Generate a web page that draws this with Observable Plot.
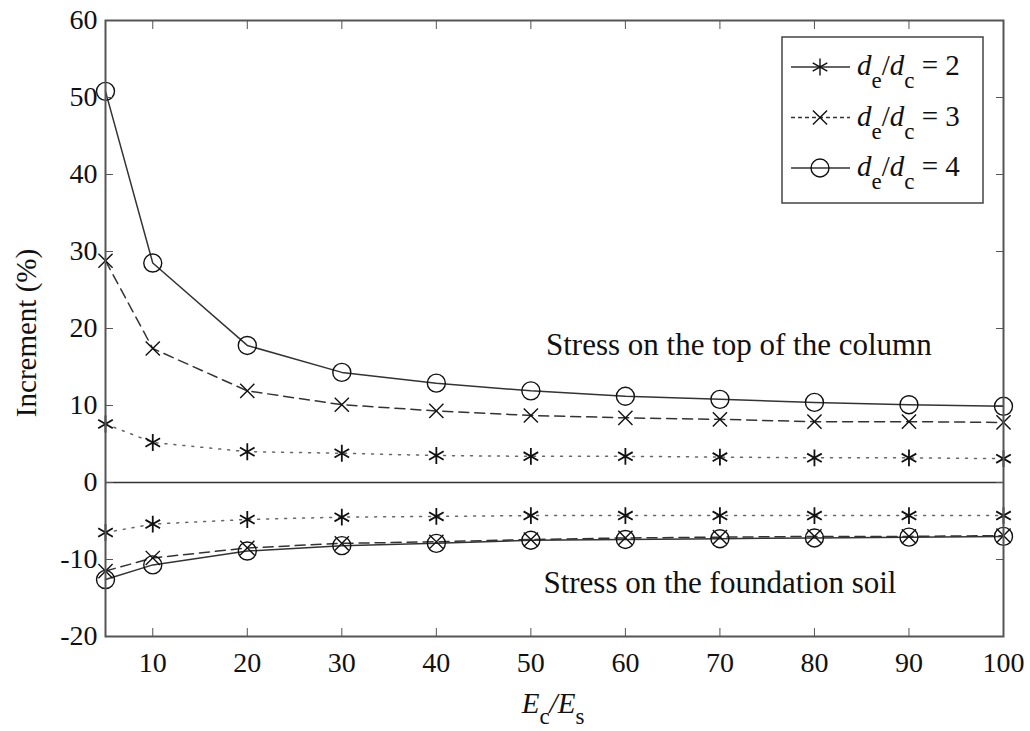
<!DOCTYPE html>
<html><head><meta charset="utf-8">
<script src="https://cdn.jsdelivr.net/npm/d3@7"></script>
<script src="https://cdn.jsdelivr.net/npm/@observablehq/plot@0.6"></script>
<style>body{margin:0;background:#fff} svg{display:block}</style>
</head><body><div id="chart"></div>
<script>
// E_c / E_s ratios
const ratio = [5, 10, 20, 30, 40, 50, 60, 70, 80, 90, 100];
// Stress on the top of the column (%)
const topD2 = [7.6, 5.2, 4.0, 3.8, 3.5, 3.4, 3.4, 3.3, 3.2, 3.2, 3.1];
const topD3 = [28.8, 17.4, 11.9, 10.1, 9.3, 8.7, 8.4, 8.2, 7.9, 7.9, 7.8];
const topD4 = [50.8, 28.5, 17.8, 14.3, 12.9, 11.9, 11.2, 10.8, 10.4, 10.1, 9.9];
// Stress on the foundation soil (%)
const soilD2 = [-6.5, -5.4, -4.8, -4.5, -4.4, -4.3, -4.3, -4.3, -4.3, -4.3, -4.3];
const soilD3 = [-11.5, -9.8, -8.5, -7.9, -7.7, -7.4, -7.2, -7.1, -7.0, -7.0, -6.9];
const soilD4 = [-12.6, -10.7, -8.9, -8.2, -7.9, -7.5, -7.4, -7.3, -7.2, -7.1, -7.0];
const xTicks = [10, 20, 30, 40, 50, 60, 70, 80, 90, 100];
const yTicks = [-20, -10, 0, 10, 20, 30, 40, 50, 60];
const seriesNames = ["2", "3", "4"];
const annotations = [
  {x: 72, y: 17.8, text: "Stress on the top of the column"},
  {x: 70, y: -13.1, text: "Stress on the foundation soil"}
];

const rows = [];
const add = (vals, series, part) => vals.forEach((v, i) => rows.push({x: ratio[i], y: v, series, part}));
add(topD2, "2", "top"); add(topD3, "3", "top"); add(topD4, "4", "top");
add(soilD2, "2", "soil"); add(soilD3, "3", "soil"); add(soilD4, "4", "soil");

const styles = {
  "2": {dash: "2,7", symbol: "asterisk", r: 8, color: "#666"},
  "3": {dash: "10,6", symbol: "times", r: 6.5, color: "#333"},
  "4": {dash: null, symbol: "circle", r: 9, color: "#333"}
};
const ink = "#333";
const serif = "'Liberation Serif', 'Times New Roman', serif";

const marks = [Plot.ruleY([0], {stroke: ink, strokeWidth: 1.5})];
for (const s of seriesNames) {
  const data = rows.filter(d => d.series === s);
  marks.push(Plot.line(data, {x: "x", y: "y", z: "part", stroke: styles[s].color, strokeWidth: 1.5, strokeDasharray: styles[s].dash}));
}
for (const s of seriesNames) {
  const data = rows.filter(d => d.series === s);
  marks.push(Plot.dot(data, {x: "x", y: "y", symbol: () => styles[s].symbol, r: styles[s].r, stroke: "#111", strokeWidth: s === "2" ? 1.8 : 1.4, fill: "none"}));
}
const fmt = d => String(d);
marks.push(
  Plot.text(annotations, {x: "x", y: "y", text: "text", fontSize: 31, fontFamily: serif, fill: "#111"}),
  Plot.frame({stroke: "#555", strokeWidth: 2}),
  Plot.axisX(xTicks, {anchor: "bottom", tickSize: -8, tickPadding: 24, tickFormat: fmt, stroke: "#555", fill: "#111", fontFamily: serif, fontSize: 28, label: null}),
  Plot.axisX(xTicks, {anchor: "top", tickSize: -8, tickFormat: () => "", stroke: "#555", label: null}),
  Plot.axisY(yTicks, {anchor: "left", tickSize: -8, tickPadding: 16, tickFormat: fmt, stroke: "#555", fill: "#111", fontFamily: serif, fontSize: 28, label: null}),
  Plot.axisY(yTicks, {anchor: "right", tickSize: -8, tickFormat: () => "", stroke: "#555", label: null})
);

const chart = Plot.plot({
  width: 1030, height: 731,
  marginLeft: 105, marginRight: 27, marginTop: 20, marginBottom: 95,
  style: {fontFamily: serif, fontSize: "27px", background: "#fff", color: "#111"},
  x: {domain: [5, 100]},
  y: {domain: [-20, 60]},
  symbol: {type: "identity"},
  marks
});
document.getElementById("chart").append(chart);

const svg = d3.select(chart);
// x axis label E_c/E_s
const xl = svg.append("text").attr("x", 553).attr("y", 713).attr("text-anchor", "middle")
  .attr("font-family", serif).attr("font-size", 29).attr("fill", "#111");
xl.append("tspan").attr("font-style", "italic").text("E");
xl.append("tspan").attr("font-size", 23).attr("dy", 11).text("c");
xl.append("tspan").attr("font-style", "italic").attr("dy", -11).text("/E");
xl.append("tspan").attr("font-size", 23).attr("dy", 11).text("s");
// y axis label
svg.append("text").attr("transform", "translate(36,333) rotate(-90)").attr("text-anchor", "middle")
  .attr("font-family", serif).attr("font-size", 29).attr("fill", "#111").text("Increment (%)");

// legend
const lg = svg.append("g");
lg.append("rect").attr("x", 782).attr("y", 37).attr("width", 201).attr("height", 166)
  .attr("fill", "#fff").attr("stroke", "#444").attr("stroke-width", 1.5);
const legendDash = {"2": null, "3": "4,3", "4": null};
const symMap = {asterisk: d3.symbolAsterisk, times: d3.symbolTimes, circle: d3.symbolCircle};
seriesNames.forEach((s, i) => {
  const cy = 67 + i * 50.5;
  lg.append("line").attr("x1", 791).attr("x2", 850).attr("y1", cy).attr("y2", cy)
    .attr("stroke", ink).attr("stroke-width", 1.3).attr("stroke-dasharray", legendDash[s]);
  const r = styles[s].r;
  lg.append("path").attr("transform", `translate(820,${cy})`)
    .attr("d", d3.symbol(symMap[styles[s].symbol], Math.PI * r * r)())
    .attr("fill", "none").attr("stroke", "#111").attr("stroke-width", 1.4);
  const t = lg.append("text").attr("x", 857).attr("y", cy + 8).attr("text-anchor", "start")
    .attr("font-family", serif).attr("font-size", 29).attr("fill", "#111");
  t.append("tspan").attr("font-style", "italic").text("d");
  t.append("tspan").attr("font-size", 23).attr("dy", 13).text("e");
  t.append("tspan").attr("dy", -13).text("/");
  t.append("tspan").attr("font-style", "italic").text("d");
  t.append("tspan").attr("font-size", 23).attr("dy", 13).text("c");
  t.append("tspan").attr("dy", -13).text(" = " + s);
});
</script>
</body></html>
